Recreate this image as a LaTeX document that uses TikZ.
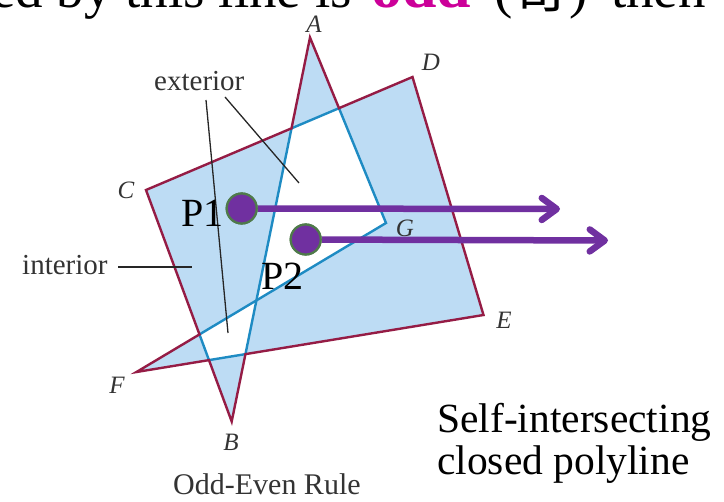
\documentclass[tikz,border=0pt]{standalone}
\usepackage{fontspec}
\setmainfont{Liberation Serif}
\newfontfamily\cjkfont{Noto Sans CJK SC}
\usetikzlibrary{arrows.meta}
\definecolor{polyfill}{HTML}{BDDCF4}
\definecolor{outred}{HTML}{951C45}
\definecolor{inblue}{HTML}{1E8BC3}
\definecolor{arrowpurple}{HTML}{7030A0}
\definecolor{dotgreen}{HTML}{4F7A4A}
\definecolor{oddmag}{HTML}{CC0099}
\definecolor{labelgray}{HTML}{333333}
\begin{document}
\begin{tikzpicture}[x=1pt,y=-1pt,
  redge/.style={draw=outred, line width=2.4pt, line join=miter},
  bedge/.style={draw=inblue, line width=2.4pt},
  leader/.style={draw=black!85, line width=1.3pt},
  vlabel/.style={text=labelgray, font=\fontsize{25}{27}\selectfont\itshape, inner sep=0pt},
  caption/.style={text=labelgray, font=\fontsize{29}{32}\selectfont, inner sep=0pt, anchor=base west},
  ptlabel/.style={text=black, font=\fontsize{40}{44}\selectfont, inner sep=0pt, anchor=base west},
  bigtext/.style={text=black, font=\fontsize{41.5}{44}\selectfont, inner sep=0pt, anchor=base west},
  toptext/.style={text=black, font=\fontsize{55}{60}\selectfont, inner sep=0pt, anchor=base west},
  dot/.style={circle, fill=arrowpurple, draw=dotgreen, line width=2.2pt, minimum size=30pt, inner sep=0pt},
  ray/.style={draw=arrowpurple, line width=6.5pt, -{Straight Barb[length=15pt, width=22pt, round]}}
]
\useasboundingbox (0,0) rectangle (724,502);

% vertices
\coordinate (A) at (310,37.5);
\coordinate (B) at (231.7,421.5);
\coordinate (C) at (146,190);
\coordinate (D) at (412.5,77);
\coordinate (E) at (483.5,315);
\coordinate (F) at (136.5,372);
\coordinate (G) at (386,223);

% intersections
\coordinate (ABCD) at (intersection of A--B and C--D);
\coordinate (GACD) at (intersection of G--A and C--D);
\coordinate (ABEF) at (intersection of A--B and E--F);
\coordinate (BCEF) at (intersection of B--C and E--F);
\coordinate (BCFG) at (intersection of B--C and F--G);

% fill (odd-even)
\fill[polyfill, even odd rule] (A) -- (B) -- (C) -- (D) -- (E) -- (F) -- (G) -- cycle;

% inner (blue) edges
\draw[bedge] (ABCD) -- (GACD);
\draw[bedge, line join=miter] (GACD) -- (G) -- (BCFG);
\draw[bedge] (ABCD) -- (ABEF);
\draw[bedge] (BCFG) -- (BCEF);
\draw[bedge] (BCEF) -- (ABEF);

% outer (red) boundary
\draw[redge] (A) -- (ABCD) -- (C) -- (BCFG) -- (F) -- (BCEF) -- (B) -- (ABEF) -- (E) -- (D) -- (GACD) -- cycle;

% leader lines
\coordinate (ex1a) at (206,100);
\coordinate (ex1b) at (228,333);
\coordinate (ex2a) at (225,97);
\coordinate (ex2b) at (299,183);
\coordinate (in1a) at (118,267);
\coordinate (in1b) at (192,267);
\draw[leader] (ex1a) -- (ex1b);
\draw[leader] (ex2a) -- (ex2b);
\draw[leader] (in1a) -- (in1b);

% vertex labels
\node[vlabel] (lA) at (314,24) {A};
\node[vlabel] (lB) at (231,442) {B};
\node[vlabel] (lC) at (126,190) {C};
\node[vlabel] (lD) at (431,62) {D};
\node[vlabel] (lE) at (504,320) {E};
\node[vlabel] (lF) at (117,385) {F};
\node[vlabel] (lG) at (405,228) {G};

% captions
\node[caption] (ext) at (154,91) {exterior};
\node[caption] (int) at (22,275) {interior};
\node[caption, font=\fontsize{30}{32}\selectfont] (rule) at (173,495) {Odd-Even Rule};

% rays
\node[dot] (p1) at (241.7,208.5) {};
\node[dot] (p2) at (305.7,239.5) {};
\coordinate (t1) at (560,209);
\coordinate (t2) at (608,240.5);
\draw[ray] (p1) -- (t1);
\draw[ray] (p2) -- (t2);
\node[dot] at (p1) {};
\node[dot] at (p2) {};

\node[ptlabel] (lp1) at (181,227) {P1};
\node[ptlabel] (lp2) at (261,290) {P2};

% right text
\node[bigtext] (s1) at (437,433) {Self-intersecting};
\node[bigtext] (s2) at (437,475) {closed polyline};

% top (cropped) text
\begin{scope}
\clip (0,0) rectangle (724,502);
\node[toptext] (t0) at (-9,8) {ed by this line is};
\node[toptext, text=oddmag, font=\fontsize{62}{64}\selectfont\bfseries] (todd) at (371,8) {odd};
\node[toptext] (tlp) at (494,8) {(};
\node[toptext, font=\fontsize{55}{60}\cjkfont] (tqi) at (514,8) {奇};
\node[toptext] (trp) at (569,8) {)};
\node[toptext] (tthen) at (611,8) {then};
\end{scope}
\end{tikzpicture}
\end{document}
